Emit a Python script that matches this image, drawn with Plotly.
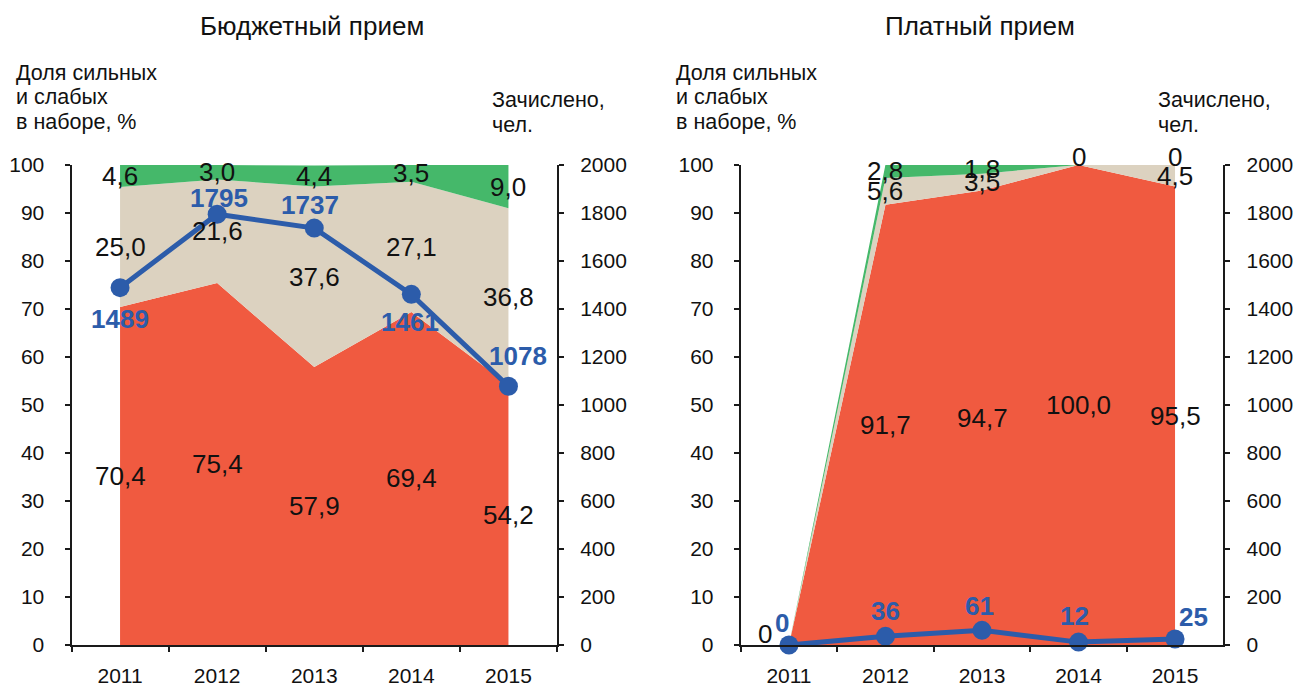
import plotly.graph_objects as go

years = ["2011", "2012", "2013", "2014", "2015"]

# Бюджетный прием
bud_red = [70.4, 75.4, 57.9, 69.4, 54.2]
bud_beige = [25.0, 21.6, 37.6, 27.1, 36.8]
bud_green = [4.6, 3.0, 4.4, 3.5, 9.0]
bud_count = [1489, 1795, 1737, 1461, 1078]

# Платный прием
paid_red = [0, 91.7, 94.7, 100.0, 95.5]
paid_beige = [0, 5.6, 3.5, 0, 4.5]
paid_green = [0, 2.8, 1.8, 0, 0]
paid_count = [0, 36, 61, 12, 25]

RED = "#F05A40"
BEIGE = "#DCD2C0"
GREEN = "#45B86A"
BLUE = "#2C5CAA"
INK = "#111111"
FONT = "Liberation Sans"

W, H = 1293, 687


def px_x(p):
    return p / W


def px_y(p):
    return 1 - p / H


fig = go.Figure()

# label placement (text offsets in pixels, relative to the point) – styling only
panels = [
    dict(xa="x", ya="y", ya2="y2", red=bud_red, beige=bud_beige, green=bud_green, count=bud_count,
         show_beige=[True] * 5, show_green=[True] * 5,
         blue_off=[(0, -31), (2, 16), (-4, 23), (-1, -28), (10, 30)]),
    dict(xa="x2", ya="y3", ya2="y4", red=paid_red, beige=paid_beige, green=paid_green, count=paid_count,
         show_beige=[False, True, True, False, True], show_green=[False, True, True, True, True],
         blue_off=[(-7, 22), (0, 25), (-3, 24), (-4, 26), (18, 22)]),
]


def fmt(v):
    if v == 0:
        return "0"
    return f"{v:.1f}".replace(".", ",")


annotations = []
for p in panels:
    for vals, col in [(p["red"], RED), (p["beige"], BEIGE), (p["green"], GREEN)]:
        fig.add_trace(go.Scatter(x=years, y=vals, xaxis=p["xa"], yaxis=p["ya"],
                                 stackgroup="s" + p["xa"], mode="none", fillcolor=col,
                                 line=dict(width=0), hoverinfo="skip", showlegend=False))
    fig.add_trace(go.Scatter(x=years, y=p["count"], xaxis=p["xa"], yaxis=p["ya2"],
                             mode="lines+markers", line=dict(color=BLUE, width=5),
                             marker=dict(size=19, color=BLUE),
                             hoverinfo="skip", showlegend=False, cliponaxis=False))
    for i, yr in enumerate(years):
        r, b, g = p["red"][i], p["beige"][i], p["green"][i]
        segs = [(r / 2, r, True), (r + b / 2, b, p["show_beige"][i]),
                (r + b + g / 2, g, p["show_green"][i])]
        for k, (yy, v, show) in enumerate(segs):
            if not show:
                continue
            xs, ys = 0, 0
            if k == 0 and v == 0:
                xs, ys = -24, 11
            if k == 2 and v == 0:
                ys = 8
            annotations.append(dict(x=i, y=yy, xref=p["xa"], yref=p["ya"], text=fmt(v),
                                    showarrow=False, xshift=xs, yshift=ys,
                                    font=dict(family=FONT, size=26, color=INK)))
        dx, dy = p["blue_off"][i]
        annotations.append(dict(x=i, y=p["count"][i], xref=p["xa"], yref=p["ya2"],
                                text="<b>%d</b>" % p["count"][i], showarrow=False,
                                xshift=dx, yshift=dy,
                                font=dict(family=FONT, size=26, color=BLUE)))

y0, y1 = px_y(645), px_y(165)
d1 = [px_x(71.5), px_x(557)]
d2 = [px_x(740.7), px_x(1223.3)]

axis_common = dict(showline=True, linecolor="#1a1a1a", linewidth=2, ticks="outside",
                   tickcolor="#1a1a1a", tickwidth=1.5, ticklen=5, showgrid=False, zeroline=False,
                   automargin=False,
                   tickfont=dict(family=FONT, size=21, color=INK))

xcommon = dict(axis_common, type="category", range=[-0.5, 4.5], tickson="boundaries",
               ticklabelstandoff=11)

fig.update_layout(
    width=W, height=H, margin=dict(l=0, r=0, t=0, b=0, autoexpand=False),
    paper_bgcolor="white", plot_bgcolor="white",
    xaxis=dict(xcommon, domain=d1, anchor="y"),
    xaxis2=dict(xcommon, domain=d2, anchor="y3"),
    yaxis=dict(axis_common, domain=[y0, y1], range=[0, 100], dtick=10, anchor="x",
               ticklabelstandoff=16),
    yaxis2=dict(axis_common, domain=[y0, y1], range=[0, 2000], dtick=200, overlaying="y",
                side="right", anchor="x", ticklabelstandoff=12),
    yaxis3=dict(axis_common, domain=[y0, y1], range=[0, 100], dtick=10, anchor="x2",
                ticklabelstandoff=16),
    yaxis4=dict(axis_common, domain=[y0, y1], range=[0, 2000], dtick=200, overlaying="y3",
                side="right", anchor="x2", ticklabelstandoff=12),
)

texts = [
    ("Бюджетный прием", 312, 26, "center", 26),
    ("Платный прием", 980, 26, "center", 26),
    ("Доля сильных", 14, 73, "left", 21.5),
    ("и слабых", 14, 97, "left", 21.5),
    ("в наборе, %", 14, 122, "left", 21.5),
    ("Доля сильных", 674, 73, "left", 21.5),
    ("и слабых", 674, 97, "left", 21.5),
    ("в наборе, %", 674, 122, "left", 21.5),
    ("Зачислено,", 490, 100, "left", 21.5),
    ("чел.", 490, 125, "left", 21.5),
    ("Зачислено,", 1156, 100, "left", 21.5),
    ("чел.", 1156, 125, "left", 21.5),
]
for t, x, y, anc, sz in texts:
    annotations.append(dict(text=t, x=px_x(x), y=px_y(y), xref="paper", yref="paper",
                            xanchor=anc, yanchor="middle", align="left", showarrow=False,
                            font=dict(family=FONT, size=sz, color=INK)))

fig.update_layout(annotations=annotations)
fig.write_html("out.html", config={"displayModeBar": False},
               post_script="document.body.style.margin='0';document.body.style.overflow='hidden';")
